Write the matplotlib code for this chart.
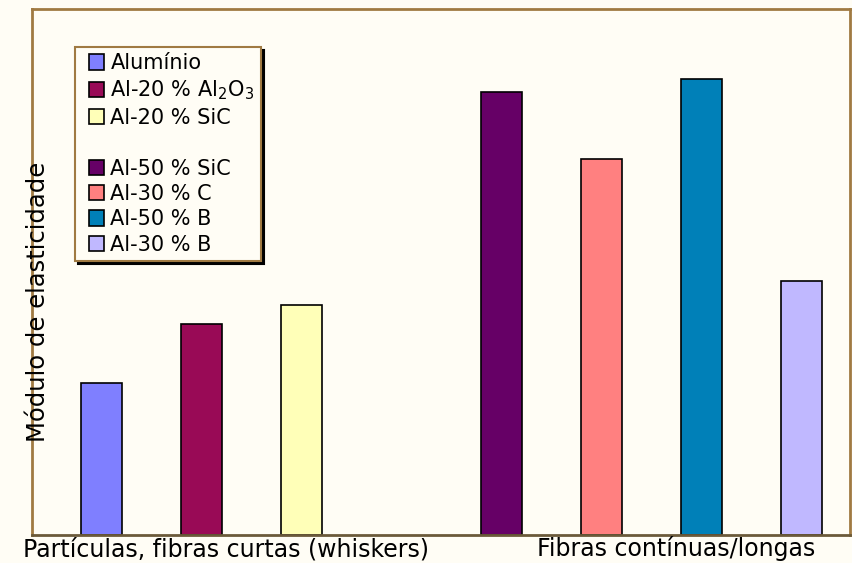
import matplotlib.pyplot as plt
from matplotlib.patches import Patch, Rectangle
from matplotlib.legend_handler import HandlerPatch
from matplotlib.transforms import blended_transform_factory

# modulus of elasticity (GPa, approximate) for Al matrix composites
materiais = ['Alumínio', 'Al-20 % Al$_2$O$_3$', 'Al-20 % SiC',
             'Al-50 % SiC', 'Al-30 % C', 'Al-50 % B', 'Al-30 % B']
modulo = [70, 97, 106, 204, 173, 210, 117]
posicao = [0, 1, 2, 4, 5, 6, 7]
cores = ['#7f7fff', '#990a56', '#ffffb8', '#660066', '#ff8080', '#0080b8', '#c0b8ff']
grupos = ['Partículas, fibras curtas (whiskers)', 'Fibras contínuas/longas']
grupo_x = [1.25, 5.75]

bg = '#fffdf5'
frame = '#a07a42'


def quadrado(legend, orig_handle, xdescent, ydescent, width, height, fontsize):
    # square key pushed to the right end of the handle box
    s = height * 1.05
    return Rectangle((-xdescent + width - s, -ydescent - 0.02 * s), s, s)


fig = plt.figure(figsize=(8.52, 5.63), dpi=100, facecolor=bg)
ax = fig.add_axes([32 / 852, 28 / 563, 818 / 852, 526 / 563], facecolor=bg)

bars = ax.bar(posicao, modulo, width=0.41, color=cores, edgecolor='black', linewidth=1.2)

ax.set_xlim(-0.69, 7.49)
ax.set_ylim(0, 242)
ax.set_xticks([])
ax.set_yticks([])
for s in ax.spines.values():
    s.set_color(frame)
    s.set_linewidth(2)
ax.spines['bottom'].set_color('#6b5a3a')

trans = blended_transform_factory(ax.transData, ax.transAxes)
for lbl, x in zip(grupos, grupo_x):
    ax.text(x, -0.040, lbl, transform=trans, ha='center', va='baseline', fontsize=17)

fig.text(38 / 852, 1 - 302 / 563, 'Módulo de elasticidade', rotation=90,
         ha='center', va='center', fontsize=17.5)

handles = [Patch(facecolor=c, edgecolor='black', linewidth=1.2) for c in cores]
labels = list(materiais)
handles.insert(3, Patch(facecolor='none', edgecolor='none'))
labels.insert(3, ' ')
leg = ax.legend(handles, labels, loc='upper left', bbox_to_anchor=(75 / 852, 1 - 47 / 563),
                bbox_transform=fig.transFigure, borderaxespad=0, fontsize=15,
                handler_map={Patch: HandlerPatch(patch_func=quadrado)},
                handlelength=1.1, handleheight=0.7, handletextpad=0.3,
                labelspacing=0.26, borderpad=0.3, fancybox=False,
                shadow={'color': 'black', 'alpha': 1, 'ox': 2, 'oy': -2},
                framealpha=1, edgecolor=frame, facecolor=bg)
leg.get_frame().set_linewidth(1.5)

fig.savefig('out.png', dpi=100, facecolor=bg)
